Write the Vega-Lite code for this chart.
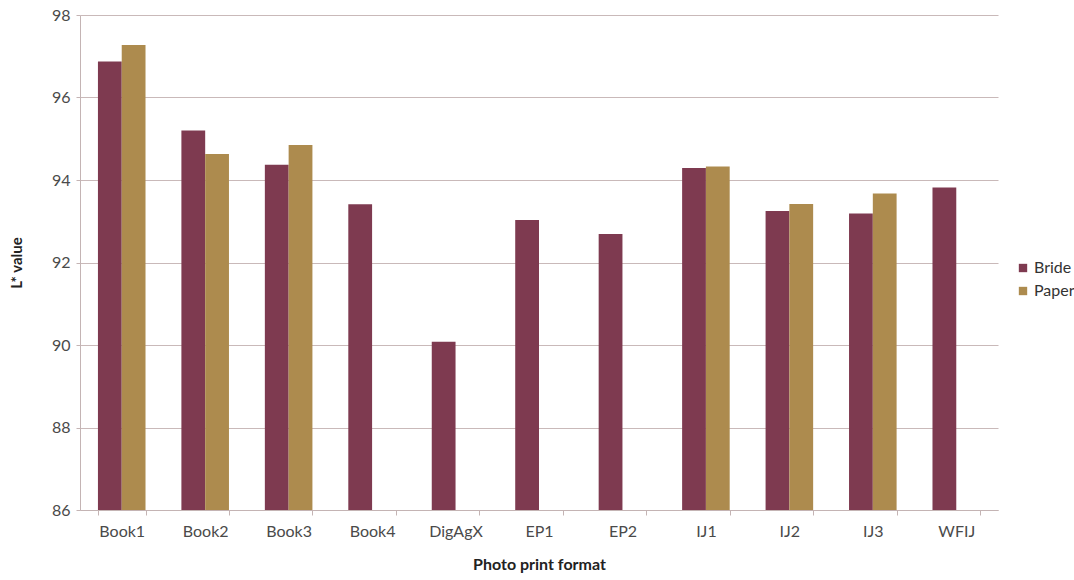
{
  "$schema": "https://vega.github.io/schema/vega-lite/v6.json",
  "autosize": "none",
  "width": 918,
  "height": 495,
  "padding": {"left": 80, "top": 15, "right": 76, "bottom": 70},
  "background": "white",
  "config": {
    "font": "Lato",
    "view": {"stroke": null}
  },
  "data": {
    "values": [
      {"format": "Book1", "series": "Bride", "L": 96.87},
      {"format": "Book1", "series": "Paper", "L": 97.27},
      {"format": "Book2", "series": "Bride", "L": 95.2},
      {"format": "Book2", "series": "Paper", "L": 94.63},
      {"format": "Book3", "series": "Bride", "L": 94.37},
      {"format": "Book3", "series": "Paper", "L": 94.85},
      {"format": "Book4", "series": "Bride", "L": 93.41},
      {"format": "DigAgX", "series": "Bride", "L": 90.08},
      {"format": "EP1", "series": "Bride", "L": 93.03},
      {"format": "EP2", "series": "Bride", "L": 92.69},
      {"format": "IJ1", "series": "Bride", "L": 94.29},
      {"format": "IJ1", "series": "Paper", "L": 94.33},
      {"format": "IJ2", "series": "Bride", "L": 93.25},
      {"format": "IJ2", "series": "Paper", "L": 93.42},
      {"format": "IJ3", "series": "Bride", "L": 93.19},
      {"format": "IJ3", "series": "Paper", "L": 93.67},
      {"format": "WFIJ", "series": "Bride", "L": 93.82}
    ]
  },
  "mark": {"type": "bar", "clip": true},
  "encoding": {
    "x": {
      "field": "format",
      "type": "nominal",
      "sort": null,
      "scale": {"paddingInner": 0.43, "paddingOuter": 0.215},
      "axis": {
        "title": "Photo print format",
        "titleFont": "Lato",
        "titleFontSize": 16,
        "titleFontWeight": "bold",
        "titleColor": "#222222",
        "titlePadding": 17,
        "labelAngle": 0,
        "labelFontSize": 16,
        "labelColor": "#4a4a4a",
        "labelPadding": 8,
        "domainColor": "#c4b4b4",
        "tickColor": "#c4b4b4",
        "tickBand": "extent",
        "tickSize": 5,
        "grid": false
      }
    },
    "xOffset": {
      "field": "series",
      "type": "nominal",
      "scale": {"domain": ["Bride", "Paper"]}
    },
    "y": {
      "field": "L",
      "type": "quantitative",
      "scale": {"domain": [86, 98], "zero": false, "nice": false},
      "axis": {
        "title": "L* value",
        "titleFont": "Lato",
        "titleFontSize": 15,
        "titleFontWeight": "bold",
        "titleColor": "#222222",
        "titlePadding": 27,
        "values": [86, 88, 90, 92, 94, 96, 98],
        "labelFontSize": 16,
        "labelColor": "#4a4a4a",
        "labelPadding": 6,
        "tickSize": 4,
        "tickColor": "#c4b4b4",
        "domainColor": "#c4b4b4",
        "gridColor": "#c9b9b9",
        "gridWidth": 1
      }
    },
    "color": {
      "field": "series",
      "type": "nominal",
      "scale": {"domain": ["Bride", "Paper"], "range": ["#7e3a50", "#ad8b4e"]},
      "legend": {
        "title": null,
        "orient": "none",
        "legendX": 935,
        "legendY": 245,
        "symbolType": "square",
        "symbolSize": 70,
        "symbolStrokeWidth": 0,
        "labelFontSize": 16,
        "labelColor": "#333333",
        "labelOffset": 3,
        "rowPadding": 7
      }
    }
  }
}
